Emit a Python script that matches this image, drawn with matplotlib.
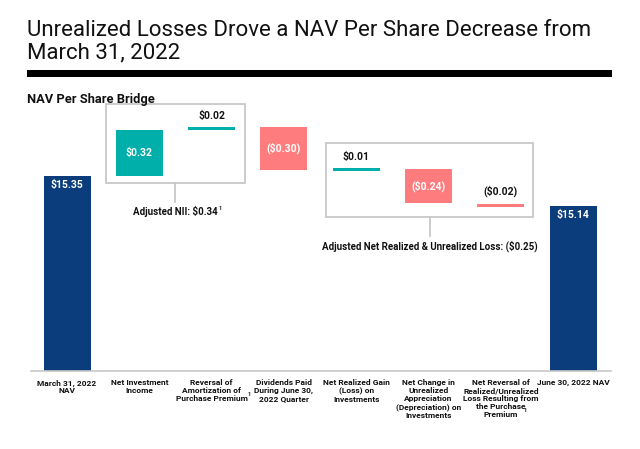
import matplotlib
matplotlib.use("Agg")
import matplotlib.pyplot as plt
import matplotlib.font_manager as fm
from matplotlib.patches import Rectangle

_avail = {f.name for f in fm.fontManager.ttflist}
NARROW = "Liberation Sans Narrow" if "Liberation Sans Narrow" in _avail else "Roboto"
plt.rcParams["font.family"] = ["Roboto", "DejaVu Sans"]

# ---------------- data ----------------
categories = ["March 31, 2022\nNAV", "Net Investment\nIncome",
              "Reversal of\nAmortization of\nPurchase Premium",
              "Dividends Paid\nDuring June 30,\n2022 Quarter",
              "Net Realized Gain\n(Loss) on\nInvestments",
              "Net Change in\nUnrealized\nAppreciation\n(Depreciation) on\nInvestments",
              "Net Reversal of\nRealized/Unrealized\nLoss Resulting from\nthe Purchase\nPremium",
              "June 30, 2022 NAV"]
start_nav = 15.35
end_nav = 15.14
changes = [0.32, 0.02, -0.30, 0.01, -0.24, -0.02]
change_labels = ["$0.32", "$0.02", "($0.30)", "$0.01", "($0.24)", "($0.02)"]
label_inside = [True, False, True, False, True, False]
nii_label = "Adjusted NII: $0.34"
loss_label = "Adjusted Net Realized & Unrealized Loss: ($0.25)"

NAVY = "#0B3D7C"
TEAL = "#00AFA9"
RED = "#FF7C7E"
GRID = "#C8C8C8"
INK = "#111111"

W, H = 640, 449
fig = plt.figure(figsize=(W / 100, H / 100), dpi=100)

# axes placed in pixels: left 31, right 611, top 100, bottom 371
ax = fig.add_axes([31 / W, 1 - 371 / H, 580 / W, 271 / H])
YMIN = 13.985
ax.set_ylim(YMIN, YMIN + 271 / 143)
ax.set_xlim(-0.498, 7.524)
for s in ("top", "left", "right"):
    ax.spines[s].set_visible(False)
ax.spines["bottom"].set_color(GRID)
ax.spines["bottom"].set_linewidth(1.2)
ax.set_yticks([])
ax.set_xticks([])

BW = 0.65
# start / end bars
for i, v in ((0, start_nav), (7, end_nav)):
    ax.bar(i, v - YMIN, bottom=YMIN, width=BW, color=NAVY, linewidth=0)
    ax.text(i, v - 0.065, f"${v:.2f}", ha="center", va="center", color="white",
            fontsize=7.5, fontweight="bold")

# floating bars
level = start_nav
tops, bots = [], []
for k, (d, lab, inside) in enumerate(zip(changes, change_labels, label_inside)):
    i = k + 1
    lo, hi = min(level, level + d), max(level, level + d)
    col = TEAL if d > 0 else RED
    if inside:
        ax.bar(i, hi - lo, bottom=lo, width=BW, color=col, linewidth=0)
        ax.text(i, (lo + hi) / 2, lab, ha="center", va="center", color="white",
                fontsize=7.5, fontweight="bold")
    else:
        # thin marker line at the new level
        ax.bar(i, 0.02, bottom=(level + d / 2 if d > 0 else level + d) - 0.01,
               width=BW, color=col, linewidth=0)
        ax.text(i, hi + 0.045, lab, ha="center", va="bottom", color=INK,
                fontsize=7.5, fontweight="bold")
    tops.append(hi)
    bots.append(lo)
    level += d


def group_box(i0, i1, pad_l, pad_r, y0, y1, drop):
    ax.add_patch(Rectangle((i0 - pad_l, y0), (i1 - i0) + pad_l + pad_r, y1 - y0,
                           fill=False, edgecolor=GRID, linewidth=1.3, clip_on=False))
    xc = (i0 - pad_l + i1 + pad_r) / 2
    ax.plot([xc, xc], [y0, y0 - drop], color=GRID, lw=1.3, clip_on=False)
    return xc


y0 = min(bots[0:2]) - 0.05
xc = group_box(1, 2, 0.46, 0.46, y0, max(tops[0:2]) + 0.16, 0.13)
t_nii = ax.text(xc, y0 - 0.2, nii_label, ha="center", va="center",
                fontsize=7, fontweight="bold", color=INK)
ax.annotate("1", xy=(1, 0.75), xycoords=t_nii, xytext=(0.8, 0), textcoords="offset points",
            ha="left", va="center", fontsize=4, fontweight="bold", color=INK)

y0b = min(bots[3:6]) - 0.08
xc2 = group_box(4, 6, 0.42, 0.45, y0b, max(tops[3:6]) + 0.18, 0.13)
ax.text(xc2, y0b - 0.205, loss_label, ha="center", va="center",
        fontsize=7, fontweight="bold", color=INK)

# category labels below the axis
cat_txt = []
for i, c in enumerate(categories):
    t = ax.annotate(c, xy=(i, 0), xycoords=("data", "axes fraction"),
                    xytext=(0, -6), textcoords="offset points",
                    ha="center", va="top", fontsize=6, fontweight="bold",
                    family=NARROW, color=INK, linespacing=1.15)
    cat_txt.append(t)
ax.annotate("1", xy=(1, 0.33), xycoords=cat_txt[2], xytext=(0.3, 0),
            textcoords="offset points", ha="left", va="center", fontsize=4,
            fontweight="bold", color=INK)
ax.annotate("1", xy=(0.8, 0.2), xycoords=cat_txt[6], xytext=(0, 0),
            textcoords="offset points", ha="left", va="center", fontsize=4,
            fontweight="bold", color=INK)

# title block
fig.text(27 / W, 1 - 30 / H, "Unrealized Losses Drove a NAV Per Share Decrease from",
         ha="left", va="center", fontsize=16, color=INK)
fig.text(27 / W, 1 - 53 / H, "March 31, 2022", ha="left", va="center", fontsize=16,
         color=INK)
fig.add_artist(Rectangle((27 / W, 1 - 77 / H), 585 / W, 7 / H, transform=fig.transFigure,
                         color="black", linewidth=0))
fig.text(27 / W, 1 - 100 / H, "NAV Per Share Bridge", ha="left", va="center",
         fontsize=9.3, fontweight="bold", color=INK)

fig.savefig("out.png", dpi=100)
